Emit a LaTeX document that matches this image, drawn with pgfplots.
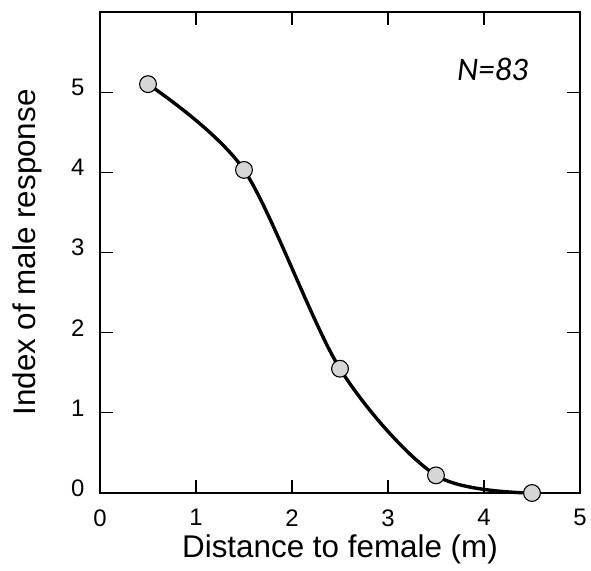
\documentclass[border=0pt]{standalone}
\usepackage{fontspec}
\setmainfont{Liberation Sans}
\newfontfamily\calib{Carlito}
\usepackage{pgfplots}
\pgfplotsset{compat=1.18}

\begin{document}
\begin{tikzpicture}
\begin{axis}[
    at={(0,0)}, anchor=south west,
    scale only axis, width=480bp, height=481bp,
    xmin=0, xmax=5, ymin=0, ymax=6,
    xtick={0,1,2,3,4,5}, ytick={0,1,2,3,4,5},
    tick align=inside, major tick length=13bp,
    tick style={black, line width=1.2bp},
    axis line style={line width=1.3bp},
    /pgf/number format/assume math mode=true,
    ticklabel style={font=\fontsize{24}{26}\selectfont},
    xticklabel style={yshift=-13bp},
    yticklabel style={xshift=-12bp, yshift=5bp},
    xlabel={Distance to female (m)},
    ylabel={Index of male response},
    label style={font=\fontsize{31.5}{34}\selectfont},
    xlabel style={at={(axis description cs:0.5,-0.118)}, anchor=center},
    ylabel style={at={(axis description cs:-0.152,0.5)}, anchor=center},
    clip=false,
]
\addplot[black, line width=3.4bp, smooth, mark=*,
    mark size=8.4bp,
    mark options={fill=black!16, draw=black, line width=1.1bp}]
  coordinates {(0.5,5.10) (1.5,4.03) (2.5,1.55) (3.5,0.22) (4.5,0.00)};
\node[font=\calib\itshape\fontsize{33}{36}\selectfont] at (axis cs:4.09,5.28) {N=83};
\end{axis}
\path (-100bp,-78bp) rectangle (491bp,493bp);
\end{tikzpicture}
\end{document}
